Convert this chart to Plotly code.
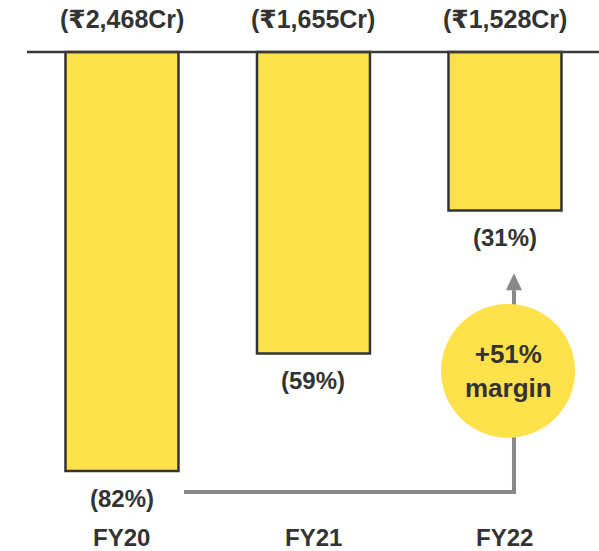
import plotly.graph_objects as go

# ---- data ----
years = ["FY20", "FY21", "FY22"]
margins = [-82, -59, -31]              # EBITDA margin (%), drawn as hanging bars
losses = ["(₹2,468Cr)", "(₹1,655Cr)", "(₹1,528Cr)"]
margin_labels = ["(82%)", "(59%)", "(31%)"]
callout = "+51%<br>margin"

YELLOW = "#FFE14B"
DARK = "#333333"
GREY = "#888888"
FONT = "Liberation Sans, Arial, DejaVu Sans, sans-serif"

x = list(range(len(years)))

def b(s):
    return "<b>" + s.replace("<br>", "</b><br><b>") + "</b>"

fig = go.Figure()
fig.add_trace(go.Bar(
    x=x, y=margins, base=0, width=0.59,
    marker=dict(color=YELLOW, line=dict(color=DARK, width=2.5)),
    hoverinfo="skip",
))

annotations = []
for i in x:
    annotations.append(dict(x=i, y=0, xref="x", yref="y", text=b(losses[i]),
                            showarrow=False, yshift=33, yanchor="middle",
                            font=dict(family=FONT, size=25, color=DARK)))
    annotations.append(dict(x=i, y=margins[i], xref="x", yref="y", text=b(margin_labels[i]),
                            showarrow=False, yshift=-27, yanchor="middle",
                            font=dict(family=FONT, size=24, color=DARK)))
    annotations.append(dict(x=i, y=0.025, xref="x", yref="paper", text=b(years[i]),
                            showarrow=False, yanchor="middle",
                            font=dict(family=FONT, size=24, color=DARK)))

# callout circle position (near last bar)
cx, cy = 2.016, -62.4
annotations.append(dict(x=cx, y=cy, xref="x", yref="y", text=b(callout), showarrow=False,
                        yanchor="middle", font=dict(family=FONT, size=26, color=DARK)))

# connector from first label to last bar
x_start = x[0] + 0.324
x_end = x[2] + 0.047
y_low = margins[0] - 4.1
y_top = margins[2] - 15.6

shapes = [
    # baseline on top
    dict(type="line", xref="paper", yref="y", x0=0.045, x1=1, y0=0, y1=0,
         line=dict(color="#3a3a3a", width=2.5), layer="above"),
    # connector
    dict(type="path", xref="x", yref="y",
         path=f"M {x_start},{y_low} L {x_end},{y_low} L {x_end},{y_top}",
         line=dict(color=GREY, width=4), layer="above"),
    # arrowhead
    dict(type="path", xref="x", yref="y", xsizemode="pixel", ysizemode="pixel",
         xanchor=x_end, yanchor=y_top, path="M -8,0 L 8,0 L 0,17 Z",
         fillcolor=GREY, line=dict(color=GREY, width=0), layer="above"),
    # circle
    dict(type="circle", xref="x", yref="y", xsizemode="pixel", ysizemode="pixel",
         xanchor=cx, yanchor=cy, x0=-67, x1=67, y0=-67, y1=67,
         fillcolor=YELLOW, line=dict(width=0), layer="above"),
]

fig.update_layout(
    width=599, height=551,
    margin=dict(l=0, r=0, t=0, b=0),
    paper_bgcolor="white", plot_bgcolor="white",
    showlegend=False,
    xaxis=dict(range=[-0.637, 2.491], visible=False, fixedrange=True),
    yaxis=dict(range=[-97.65, 10.18], visible=False, fixedrange=True),
    annotations=annotations,
    shapes=shapes,
)

fig.write_html("out.html", config={"displayModeBar": False})
